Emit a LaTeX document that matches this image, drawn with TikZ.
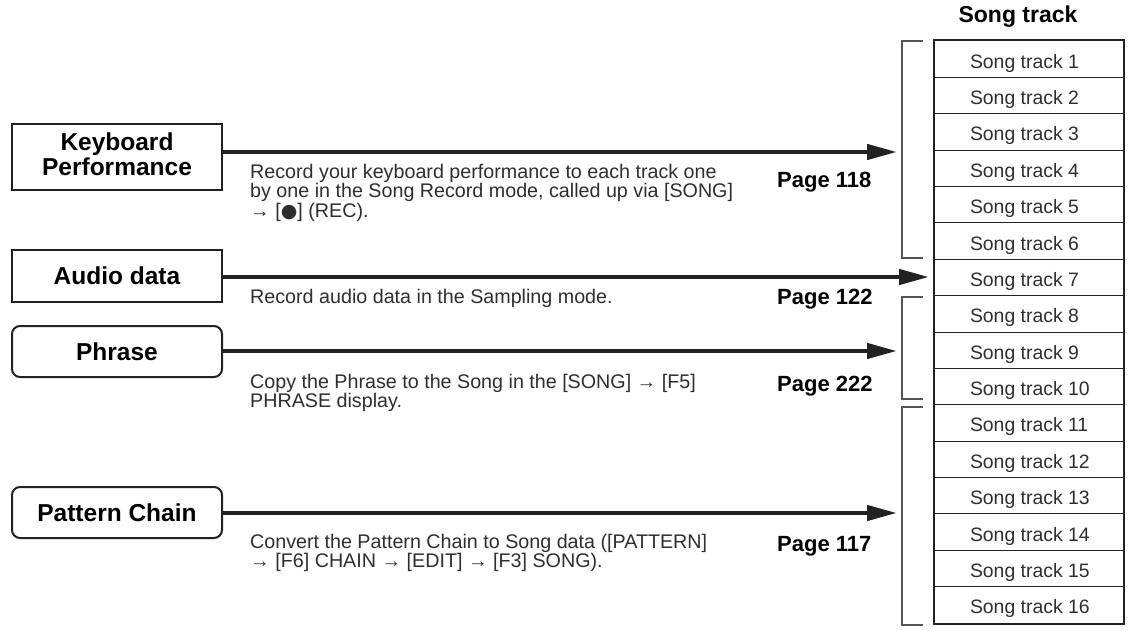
\documentclass[tikz,border=0pt]{standalone}
\usepackage{fontspec}
\setmainfont{Liberation Sans}
\newfontfamily\symfont{DejaVu Sans}
\usetikzlibrary{arrows.meta}
\definecolor{ink}{HTML}{222222}
\definecolor{txt}{HTML}{2E2E2E}
\definecolor{brk}{HTML}{555555}
\begin{document}
\begin{tikzpicture}[x=1pt,y=-1pt,
  srcbox/.style={draw=ink, line width=2pt, minimum width=210pt, inner sep=0pt,
    font=\fontsize{24.5}{24.5}\selectfont\bfseries, align=center, text=black},
  roundbox/.style={srcbox, rounded corners=8pt},
  conn/.style={draw=ink, line width=4.5pt, -{Triangle[length=30pt,width=15pt]}},
  desc/.style={inner sep=0pt, anchor=base west, align=left, text=txt,
    font=\fontsize{19.7}{19.5}\selectfont},
  pagelbl/.style={inner sep=0pt, anchor=base west, text=black,
    font=\fontsize{22}{22}\selectfont\bfseries},
  cell/.style={draw=ink, line width=1pt, minimum width=189pt, minimum height=36.375pt,
    inner sep=0pt, text height=18pt, text depth=0pt, text=txt,
    font=\fontsize{19.4}{19.4}\selectfont},
  bracket/.style={draw=brk, line width=1.3pt},
  header/.style={inner sep=0pt, text=black, font=\fontsize{23}{23}\selectfont\bfseries}
]
\useasboundingbox (0,0) rectangle (1129,631);

% source boxes
\node[srcbox, minimum height=66pt, text depth=6pt] (kb) at (117,157) {Keyboard\\Performance};
\node[srcbox, minimum height=52pt] (audio) at (117,276) {Audio data};
\node[roundbox, minimum height=51pt] (phrase) at (117,351.5) {Phrase};
\node[roundbox, minimum height=51pt] (pattern) at (117,512.5) {Pattern Chain};

% song track table
\node[header] (hdr) at (1018,17) {Song track};
\foreach \i in {1,...,16}{
  \node[cell] (s\i) at (1028.5,{41+36.375*(\i-0.5)}) {\makebox[117pt][l]{Song track \i}};
}
\draw[ink, line width=2pt] (s1.north west) rectangle (s16.south east);

% brackets
\draw[bracket] (923,41) -- (902,41) -- (902,258) -- (923,258);
\draw[bracket] (923,297) -- (902,297) -- (902,399) -- (923,399);
\draw[bracket] (923,407) -- (902,407) -- (902,625) -- (923,625);

% arrow end points
\coordinate (e1) at (897,152);
\coordinate (e2) at (929,277);
\coordinate (e3) at (897,351);
\coordinate (e4) at (897,513);

\draw[conn] (kb.east |- e1) -- (e1);
\draw[conn] (audio.east |- e2) -- (e2);
\draw[conn] (phrase.east |- e3) -- (e3);
\draw[conn] (pattern.east |- e4) -- (e4);

% descriptions (anchor = baseline of the last line)
\node[desc] (d1) at (250,217) {Record your keyboard performance to each track one\\by one in the Song Record mode, called up via [SONG]\\→ [{\symfont\fontsize{19}{19}\selectfont ●}] (REC).};
\node[desc] (d2) at (250,303) {Record audio data in the Sampling mode.};
\node[desc] (d3) at (250,407.5) {Copy the Phrase to the Song in the [SONG] → [F5]\\PHRASE display.};
\node[desc] (d4) at (250,567.5) {Convert the Pattern Chain to Song data ([PATTERN]\\→ [F6] CHAIN → [EDIT] → [F3] SONG).};

% page references
\node[pagelbl] (p1) at (777,188) {Page 118};
\node[pagelbl] (p2) at (777,304) {Page 122};
\node[pagelbl] (p3) at (777,391) {Page 222};
\node[pagelbl] (p4) at (777,551) {Page 117};
\end{tikzpicture}
\end{document}
